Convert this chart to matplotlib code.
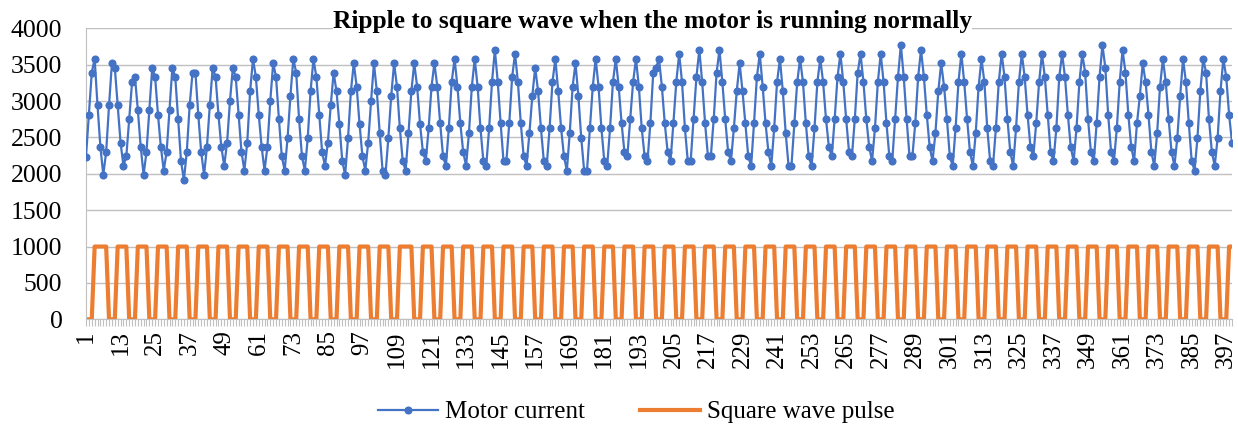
import matplotlib
matplotlib.use("Agg")
import matplotlib.pyplot as plt

plt.rcParams["font.family"] = ["Liberation Serif", "DejaVu Serif"]

title = "Ripple to square wave when the motor is running normally"
series_names = ["Motor current", "Square wave pulse"]

# motor current samples, one per reading
motor_current = [
    2237, 2810, 3390, 3580, 2940, 2370, 1985, 2300, 2940, 3520,
    3460, 2940, 2430, 2110, 2240, 2750, 3260, 3330, 2880, 2370,
    1985, 2300, 2880, 3455, 3330, 2810, 2370, 2045, 2300, 2880,
    3460, 3330, 2750, 2175, 1915, 2300, 2940, 3390, 3390, 2810,
    2300, 1985, 2370, 2940, 3460, 3330, 2810, 2370, 2110, 2430,
    3000, 3460, 3330, 2810, 2300, 2045, 2430, 3135, 3580, 3330,
    2810, 2370, 2045, 2370, 3000, 3520, 3330, 2750, 2240, 2045,
    2490, 3070, 3580, 3390, 2750, 2240, 2045, 2490, 3135, 3580,
    3330, 2810, 2300, 2110, 2430, 2940, 3390, 3135, 2685, 2175,
    1985, 2490, 3135, 3520, 3200, 2685, 2240, 2045, 2430, 3000,
    3520, 3135, 2560, 2045, 1985, 2490, 3070, 3520, 3200, 2625,
    2175, 2045, 2560, 3135, 3520, 3200, 2685, 2300, 2175, 2625,
    3200, 3520, 3200, 2695, 2240, 2110, 2625, 3260, 3580, 3200,
    2695, 2300, 2110, 2560, 3200, 3580, 3200, 2625, 2175, 2110,
    2625, 3260, 3705, 3260, 2695, 2175, 2175, 2695, 3330, 3650,
    3260, 2695, 2240, 2110, 2560, 3070, 3460, 3135, 2625, 2175,
    2110, 2625, 3260, 3580, 3135, 2625, 2240, 2045, 2560, 3200,
    3520, 3070, 2490, 2045, 2045, 2625, 3200, 3580, 3200, 2625,
    2175, 2110, 2625, 3260, 3580, 3200, 2695, 2300, 2240, 2750,
    3260, 3580, 3200, 2625, 2240, 2175, 2695, 3390, 3460, 3580,
    3200, 2695, 2300, 2175, 2695, 3260, 3650, 3260, 2625, 2175,
    2175, 2750, 3330, 3705, 3260, 2695, 2240, 2240, 2750, 3390,
    3705, 3260, 2750, 2300, 2175, 2625, 3135, 3520, 3135, 2695,
    2240, 2110, 2695, 3330, 3650, 3200, 2695, 2300, 2110, 2625,
    3260, 3580, 3135, 2560, 2110, 2110, 2695, 3260, 3580, 3260,
    2695, 2240, 2110, 2625, 3260, 3580, 3260, 2750, 2370, 2240,
    2750, 3330, 3650, 3260, 2750, 2300, 2240, 2750, 3390, 3650,
    3260, 2750, 2370, 2175, 2625, 3260, 3650, 3260, 2695, 2240,
    2175, 2750, 3330, 3771, 3330, 2750, 2240, 2240, 2695, 3330,
    3705, 3330, 2810, 2370, 2175, 2560, 3135, 3520, 3200, 2750,
    2240, 2110, 2625, 3260, 3650, 3260, 2750, 2300, 2110, 2560,
    3200, 3580, 3260, 2625, 2175, 2110, 2625, 3260, 3650, 3330,
    2750, 2300, 2110, 2625, 3260, 3650, 3330, 2810, 2370, 2240,
    2695, 3260, 3650, 3330, 2810, 2300, 2175, 2625, 3330, 3650,
    3330, 2810, 2370, 2175, 2625, 3260, 3650, 3390, 2750, 2300,
    2175, 2695, 3330, 3771, 3460, 2810, 2300, 2175, 2625, 3260,
    3705, 3390, 2810, 2370, 2175, 2695, 3070, 3520, 3260, 2810,
    2300, 2110, 2560, 3200, 3580, 3260, 2750, 2300, 2110, 2490,
    3070, 3580, 3260, 2695, 2175, 2045, 2490, 3135, 3580, 3390,
    2750, 2300, 2110, 2490, 3135, 3580, 3330, 2810, 2430,
]

# pulse output, 0 = low, 1000 = high (one pulse per row)
square_wave = [
    0, 0, 0,
    1000, 1000, 1000, 1000, 1000, 0, 0, 0,  # samples 4-11
    1000, 1000, 1000, 1000, 0, 0, 0,  # 12
    1000, 1000, 1000, 1000, 0, 0, 0,  # 19
    1000, 1000, 1000, 1000, 0, 0, 0,  # 26
    1000, 1000, 1000, 1000, 0, 0, 0,  # 33
    1000, 1000, 1000, 1000, 0, 0, 0,  # 40
    1000, 1000, 1000, 1000, 0, 0, 0,  # 47
    1000, 1000, 1000, 1000, 0, 0, 0,  # 54
    1000, 1000, 1000, 1000, 0, 0, 0,  # 61
    1000, 1000, 1000, 1000, 0, 0, 0,  # 68
    1000, 1000, 1000, 1000, 0, 0, 0,  # 75
    1000, 1000, 1000, 1000, 0, 0, 0,  # 82
    1000, 1000, 1000, 1000, 0, 0, 0,  # 89
    1000, 1000, 1000, 1000, 0, 0, 0,  # 96
    1000, 1000, 1000, 1000, 0, 0, 0,  # 103
    1000, 1000, 1000, 1000, 1000, 0, 0, 0,  # 110-117
    1000, 1000, 1000, 1000, 0, 0, 0,  # 118
    1000, 1000, 1000, 1000, 0, 0, 0,  # 125
    1000, 1000, 1000, 1000, 0, 0, 0,  # 132
    1000, 1000, 1000, 1000, 0, 0, 0,  # 139
    1000, 1000, 1000, 1000, 0, 0, 0,  # 146
    1000, 1000, 1000, 1000, 0, 0, 0,  # 153
    1000, 1000, 1000, 1000, 0, 0, 0,  # 160
    1000, 1000, 1000, 1000, 0, 0, 0,  # 167
    1000, 1000, 1000, 1000, 0, 0, 0,  # 174
    1000, 1000, 1000, 1000, 0, 0, 0,  # 181
    1000, 1000, 1000, 1000, 0, 0, 0,  # 188
    1000, 1000, 1000, 1000, 0, 0, 0,  # 195
    1000, 1000, 1000, 1000, 0, 0, 0,  # 202
    1000, 1000, 1000, 1000, 0, 0, 0,  # 209
    1000, 1000, 1000, 1000, 0, 0, 0,  # 216
    1000, 1000, 1000, 1000, 0, 0, 0,  # 223
    1000, 1000, 1000, 1000, 0, 0, 0,  # 230
    1000, 1000, 1000, 1000, 0, 0, 0,  # 237
    1000, 1000, 1000, 1000, 0, 0, 0,  # 244
    1000, 1000, 1000, 1000, 0, 0, 0,  # 251
    1000, 1000, 1000, 1000, 0, 0, 0,  # 258
    1000, 1000, 1000, 1000, 0, 0, 0,  # 265
    1000, 1000, 1000, 1000, 0, 0, 0,  # 272
    1000, 1000, 1000, 1000, 0, 0, 0,  # 279
    1000, 1000, 1000, 1000, 0, 0, 0,  # 286
    1000, 1000, 1000, 1000, 0, 0, 0,  # 293
    1000, 1000, 1000, 1000, 0, 0, 0,  # 300
    1000, 1000, 1000, 1000, 0, 0, 0,  # 307
    1000, 1000, 1000, 1000, 0, 0, 0,  # 314
    1000, 1000, 1000, 1000, 0, 0, 0,  # 321
    1000, 1000, 1000, 1000, 0, 0, 0,  # 328
    1000, 1000, 1000, 1000, 0, 0, 0,  # 335
    1000, 1000, 1000, 1000, 0, 0, 0,  # 342
    1000, 1000, 1000, 1000, 0, 0, 0,  # 349
    1000, 1000, 1000, 1000, 0, 0, 0,  # 356
    1000, 1000, 1000, 1000, 0, 0, 0,  # 363
    1000, 1000, 1000, 1000, 0, 0, 0,  # 370
    1000, 1000, 1000, 1000, 0, 0, 0,  # 377
    1000, 1000, 1000, 1000, 0, 0, 0,  # 384
    1000, 1000, 1000, 1000, 0, 0, 0,  # 391
    1000, 1000,  # 398
]

samples = list(range(1, len(motor_current) + 1))
labelled_samples = samples[::12]
y_ticks = [0, 500, 1000, 1500, 2000, 2500, 3000, 3500, 4000]

W, H = 1238, 425
fig = plt.figure(figsize=(W / 100, H / 100), dpi=100)
ax = fig.add_axes([86 / W, 1 - 319.3 / H, (1232 - 86) / W, (319.3 - 28.3) / H])

ax.plot(samples, motor_current, color="#4472C4", lw=1.6, marker="o", ms=4.8,
        label=series_names[0], zorder=3)
ax.plot(samples, square_wave, color="#ED7D31", lw=3.0, label=series_names[1],
        zorder=2)

ax.set_xlim(samples[0], samples[-1])
ax.set_ylim(0, 4000)
ax.set_yticks(y_ticks)
ax.set_yticklabels([str(v) for v in y_ticks], fontsize=18.5)
ax.set_xticks(labelled_samples)
ax.set_xticklabels([str(v) for v in labelled_samples], rotation=90, fontsize=18)
ax.set_xticks(samples, minor=True)

ax.yaxis.grid(True, color="#c0c0c0", lw=1.0)
ax.set_axisbelow(True)
for side in ["top", "right"]:
    ax.spines[side].set_visible(False)
ax.spines["left"].set_color("#c0c0c0")
ax.spines["bottom"].set_color("#c0c0c0")
ax.tick_params(axis="y", length=0, pad=17)
ax.tick_params(axis="x", which="both", length=5, width=0.8, color="#c0c0c0",
               direction="out", pad=3)

fig.text(0.527, 1 - 28 / H, title, ha="center", va="baseline", fontsize=18.3,
         fontweight="bold", bbox=dict(facecolor="white", edgecolor="none", pad=0))

fig.legend(loc="center", bbox_to_anchor=(0.514, 1 - 412 / H), ncol=2,
           frameon=False, fontsize=18, handlelength=2.4, handletextpad=0.3,
           columnspacing=2.2)

fig.savefig("out.png", dpi=100)
